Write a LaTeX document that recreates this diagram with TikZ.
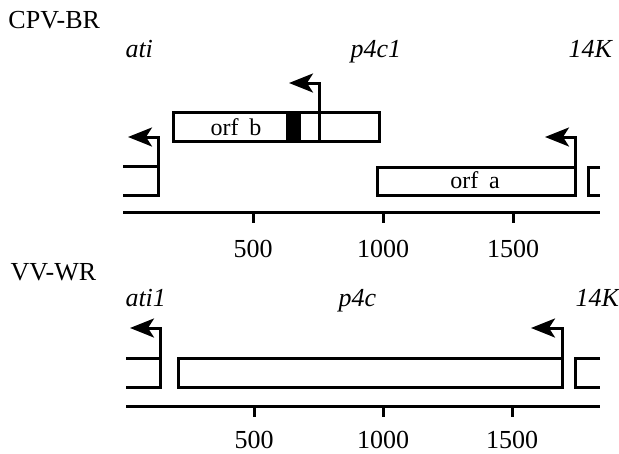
\documentclass[tikz,border=0pt]{standalone}
\usepackage{fontspec}
\setmainfont{Liberation Serif}
\usetikzlibrary{arrows.meta}
\begin{document}
\begin{tikzpicture}[x=1pt,y=-1pt,line width=3pt,line join=miter,
  prom/.style={-{Stealth[length=24pt,width=19pt,inset=6pt]}},
  lbl/.style={font=\fontsize{26}{30}\selectfont,inner sep=0pt},
  ital/.style={font=\fontsize{26}{30}\selectfont\itshape,inner sep=0pt},
  orflbl/.style={font=\fontsize{24}{27}\selectfont,inner sep=0pt}]
\useasboundingbox (0,0) rectangle (619,453);

% ---------------- CPV-BR ----------------
\node[lbl,anchor=base west] (cpv) at (7,28) {CPV-BR};
\node[ital,anchor=base west] (ati) at (124,57) {ati};
\node[ital,anchor=base west] (p4ca) at (349,57) {p4c1};
\node[ital,anchor=base west] (kA) at (567,57) {14K};

% left gene fragment and ati promoter
\coordinate (la1) at (123,166); \coordinate (la2) at (158,166);
\coordinate (la3) at (158,195); \coordinate (la4) at (123,195);
\draw (la1) -- (la2) -- (la3) -- (la4);
\coordinate (pa1) at (158,137); \coordinate (pa2) at (128,137);
\draw[prom] (la2) -- (pa1) -- (pa2);

% orf b with black block and p4c1 promoter
\coordinate (bL) at (173,112); \coordinate (bR) at (379,141);
\fill (286,112) rectangle (301,141);
\draw (bL) rectangle (bR);
\node[orflbl,anchor=base] (orfb) at (236,135) {orf\hspace{0.45em}b};
\coordinate (pb0) at (319,141); \coordinate (pb1) at (319,83); \coordinate (pb2) at (289,83);
\draw[prom] (pb0) -- (pb1) -- (pb2);

% orf a with 14K promoter
\coordinate (aL) at (377,167); \coordinate (aR) at (575,195);
\draw (aL) rectangle (aR);
\node[orflbl,anchor=base] (orfa) at (475,188) {orf\hspace{0.45em}a};
\coordinate (pc0) at (575,167); \coordinate (pc1) at (575,137); \coordinate (pc2) at (545,137);
\draw[prom] (pc0) -- (pc1) -- (pc2);

% right gene fragment
\draw (600,167) -- (588,167) -- (588,195) -- (600,195);

% scale
\coordinate (axA0) at (123,212); \coordinate (axA1) at (600,212);
\draw (axA0) -- (axA1);
\foreach \x/\t in {253/500,383/1000,513/1500}{
  \draw (\x,212) -- (\x,223);
  \node[lbl,anchor=base] at (\x,257) {\t};
}

% ---------------- VV-WR ----------------
\node[lbl,anchor=base west] (vv) at (9,280) {VV-WR};
\node[ital,anchor=base west] (ati1) at (124,306) {ati1};
\node[ital,anchor=base west] (p4cb) at (337,306) {p4c};
\node[ital,anchor=base west] (kB) at (574,306) {14K};

% left gene fragment and ati1 promoter
\coordinate (lb1) at (126,358); \coordinate (lb2) at (160,358);
\coordinate (lb3) at (160,387); \coordinate (lb4) at (126,387);
\draw (lb1) -- (lb2) -- (lb3) -- (lb4);
\coordinate (qa1) at (160,328); \coordinate (qa2) at (130,328);
\draw[prom] (lb2) -- (qa1) -- (qa2);

% long gene with 14K promoter
\coordinate (gL) at (178,358); \coordinate (gR) at (562,387);
\draw (gL) rectangle (gR);
\coordinate (qb0) at (562,358); \coordinate (qb1) at (562,328); \coordinate (qb2) at (531,328);
\draw[prom] (qb0) -- (qb1) -- (qb2);

% right gene fragment
\draw (600,358) -- (575,358) -- (575,387) -- (600,387);

% scale
\coordinate (axB0) at (126,406); \coordinate (axB1) at (600,406);
\draw (axB0) -- (axB1);
\foreach \x/\t in {254/500,383/1000,512/1500}{
  \draw (\x,406) -- (\x,417);
  \node[lbl,anchor=base] at (\x,448) {\t};
}
\end{tikzpicture}
\end{document}
